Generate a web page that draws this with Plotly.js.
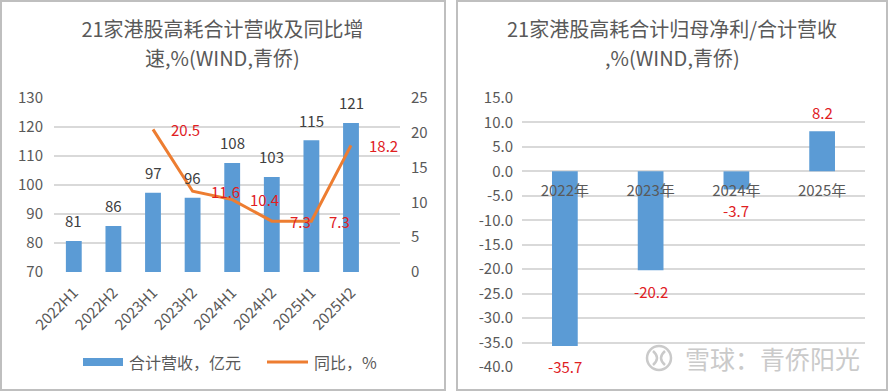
<!DOCTYPE html>
<html><head><meta charset="utf-8">
<script src="https://cdn.plot.ly/plotly-3.0.1.min.js"></script>
<style>
html,body{margin:0;padding:0;background:#fff;width:888px;height:391px;overflow:hidden;}
.panel{position:absolute;top:0;height:390px;}
.border{position:absolute;border:2px solid #bfbfbf;box-sizing:border-box;pointer-events:none;}
</style></head><body>
<div id="left" class="panel" style="left:0;width:445px;"></div>
<div id="right" class="panel" style="left:456px;width:432px;"></div>
<div class="border" style="left:0;top:0;width:446px;height:391px;"></div>
<div class="border" style="left:456px;top:0;width:432px;height:391px;"></div>
<script>
// ---- data: left chart ----
const halfYears = ['2022H1','2022H2','2023H1','2023H2','2024H1','2024H2','2025H1','2025H2'];
const revenue = [80.7, 85.9, 97.3, 95.6, 107.6, 102.8, 115.4, 121.4];
const revenueLabels = ['81','86','97','96','108','103','115','121'];
const yoyGrowth = [null, null, 20.5, 11.6, 10.4, 7.3, 7.3, 18.2];
const yoyLabels = ['', '', '20.5', '11.6', '10.4', '7.3', '7.3', '18.2'];
const leftTickVals = [70, 80, 90, 100, 110, 120, 130];
const rightTickVals = [0, 5, 10, 15, 20, 25];
const leftSeriesNames = ['合计营收，亿元', '同比，%'];
const leftTitleLines = ['21家港股高耗合计营收及同比增', '速,%(WIND,青侨)'];
// ---- data: right chart ----
const years = ['2022年','2023年','2024年','2025年'];
const profitMargin = [-35.7, -20.2, -3.7, 8.2];
const profitLabels = ['-35.7','-20.2','-3.7','8.2'];
const marginTickVals = [15, 10, 5, 0, -5, -10, -15, -20, -25, -30, -35, -40];
const rightTitleLines = ['21家港股高耗合计归母净利/合计营收', ',%(WIND,青侨)'];
const watermark = '雪球：青侨阳光';

const FONT = '"Noto Sans CJK SC", "Noto Sans", sans-serif';
const GREY = '#595959', GRID = '#d9d9d9', BLUE = '#5b9bd5', ORANGE = '#ed7d31', RED = '#e0201f';

// left plot area in px: x 54..400, y 98..272
const lx = px => (px - 54) / 346, ly = py => (272 - py) / 174;

const leftAnn = [];
halfYears.forEach((c, i) => {
  leftAnn.push({x: c, y: revenue[i], xref: 'x', yref: 'y', text: revenueLabels[i], showarrow: false,
    yanchor: 'middle', yshift: 20, font: {family: FONT, size: 15, color: '#404040'}});
  if (yoyGrowth[i] !== null) {
    leftAnn.push({x: c, y: yoyGrowth[i], xref: 'x', yref: 'y2', text: yoyLabels[i], showarrow: false,
      xanchor: 'left', yanchor: 'middle', xshift: 16, font: {family: FONT, size: 15, color: RED}});
  }
});
leftAnn.push({x: lx(127), y: ly(362), xref: 'paper', yref: 'paper', text: leftSeriesNames[0], showarrow: false,
  xanchor: 'left', yanchor: 'middle', font: {family: FONT, size: 16, color: GREY}});
leftAnn.push({x: lx(312), y: ly(362), xref: 'paper', yref: 'paper', text: leftSeriesNames[1], showarrow: false,
  xanchor: 'left', yanchor: 'middle', font: {family: FONT, size: 16, color: GREY}});
leftAnn.push({x: lx(222.5), y: ly(57.5), xref: 'paper', yref: 'paper', text: leftTitleLines[1], showarrow: false,
  xanchor: 'center', yanchor: 'middle', font: {family: FONT, size: 20, color: GREY}});

const leftShapes = [
  {type: 'rect', xref: 'paper', yref: 'paper', x0: lx(83), x1: lx(123), y0: ly(358), y1: ly(366),
   fillcolor: BLUE, line: {width: 0}},
  {type: 'line', xref: 'paper', yref: 'paper', x0: lx(267), x1: lx(308), y0: ly(362), y1: ly(362),
   line: {color: ORANGE, width: 3}}
];

Plotly.newPlot('left', [
  {type: 'bar', x: halfYears, y: revenue, name: leftSeriesNames[0], marker: {color: BLUE}, width: 0.4, yaxis: 'y'},
  {type: 'scatter', mode: 'lines', x: halfYears, y: yoyGrowth, name: leftSeriesNames[1],
   line: {color: ORANGE, width: 3}, yaxis: 'y2', connectgaps: false}
], {
  width: 445, height: 390,
  margin: {l: 54, r: 45, t: 98, b: 118},
  paper_bgcolor: '#fff', plot_bgcolor: '#fff',
  showlegend: false,
  title: {text: leftTitleLines[0], x: 0.5, xanchor: 'center', y: 1 - 30 / 390, yanchor: 'middle',
    font: {family: FONT, size: 20, color: GREY}},
  xaxis: {type: 'category', tickangle: -45, showline: false, ticks: '', ticklabelstandoff: 8,
    tickfont: {family: FONT, size: 15, color: GREY}, showgrid: false},
  yaxis: {range: [70, 130], tickvals: leftTickVals, showgrid: true, gridcolor: GRID, gridwidth: 2,
    zeroline: false, showline: false, ticks: '', ticklabelstandoff: 10,
    tickfont: {family: FONT, size: 15, color: GREY}},
  yaxis2: {range: [0, 25], tickvals: rightTickVals, overlaying: 'y', side: 'right', showgrid: false,
    zeroline: false, showline: false, ticks: '', ticklabelstandoff: 10,
    tickfont: {family: FONT, size: 15, color: GREY}},
  annotations: leftAnn,
  shapes: leftShapes
}, {staticPlot: true});

// right plot area in px (page): x 522..865, y 98..367
const rx = px => (px - 522) / 343, ry = py => (367 - py) / 269;

const rightAnn = years.map((c, i) => ({
  x: c, y: profitMargin[i], xref: 'x', yref: 'y', text: profitLabels[i], showarrow: false,
  yanchor: 'middle', yshift: profitMargin[i] >= 0 ? 19 : -21,
  font: {family: FONT, size: 15, color: RED}
}));
rightAnn.push({x: rx(683), y: ry(358), xref: 'paper', yref: 'paper', text: watermark, showarrow: false,
  xanchor: 'left', yanchor: 'middle', font: {family: FONT, size: 25, color: '#cacaca'}});
rightAnn.push({x: rx(672), y: ry(57.5), xref: 'paper', yref: 'paper', text: rightTitleLines[1], showarrow: false,
  xanchor: 'center', yanchor: 'middle', font: {family: FONT, size: 20, color: GREY}});

const rightShapes = [
  {type: 'circle', xref: 'paper', yref: 'paper', x0: rx(647), x1: rx(671), y0: ry(346), y1: ry(370),
   line: {color: '#cacaca', width: 2.5}},
  {type: 'path', xref: 'paper', yref: 'paper',
   path: `M ${rx(653)} ${ry(351)} Q ${rx(661)} ${ry(358)} ${rx(653)} ${ry(365)} M ${rx(665)} ${ry(351)} Q ${rx(657)} ${ry(358)} ${rx(665)} ${ry(365)}`,
   line: {color: '#cacaca', width: 2.5}}
];

Plotly.newPlot('right', [
  {type: 'bar', x: years, y: profitMargin, marker: {color: BLUE}, width: 0.3}
], {
  width: 432, height: 390,
  margin: {l: 66, r: 23, t: 98, b: 23},
  paper_bgcolor: '#fff', plot_bgcolor: '#fff',
  showlegend: false,
  title: {text: rightTitleLines[0], x: 0.5, xanchor: 'center', y: 1 - 30 / 390, yanchor: 'middle',
    font: {family: FONT, size: 20, color: GREY}},
  xaxis: {type: 'category', anchor: 'free', position: 40 / 55, showline: false, ticks: '',
    ticklabelstandoff: 9, showgrid: false, tickfont: {family: FONT, size: 15, color: GREY}},
  yaxis: {range: [-40, 15], tickvals: marginTickVals, ticktext: marginTickVals.map(v => v.toFixed(1)),
    showgrid: true, gridcolor: GRID, gridwidth: 2, zeroline: false, showline: false, ticks: '',
    ticklabelstandoff: 8, tickfont: {family: FONT, size: 15, color: GREY}},
  annotations: rightAnn,
  shapes: rightShapes
}, {staticPlot: true});
</script>
</body></html>
